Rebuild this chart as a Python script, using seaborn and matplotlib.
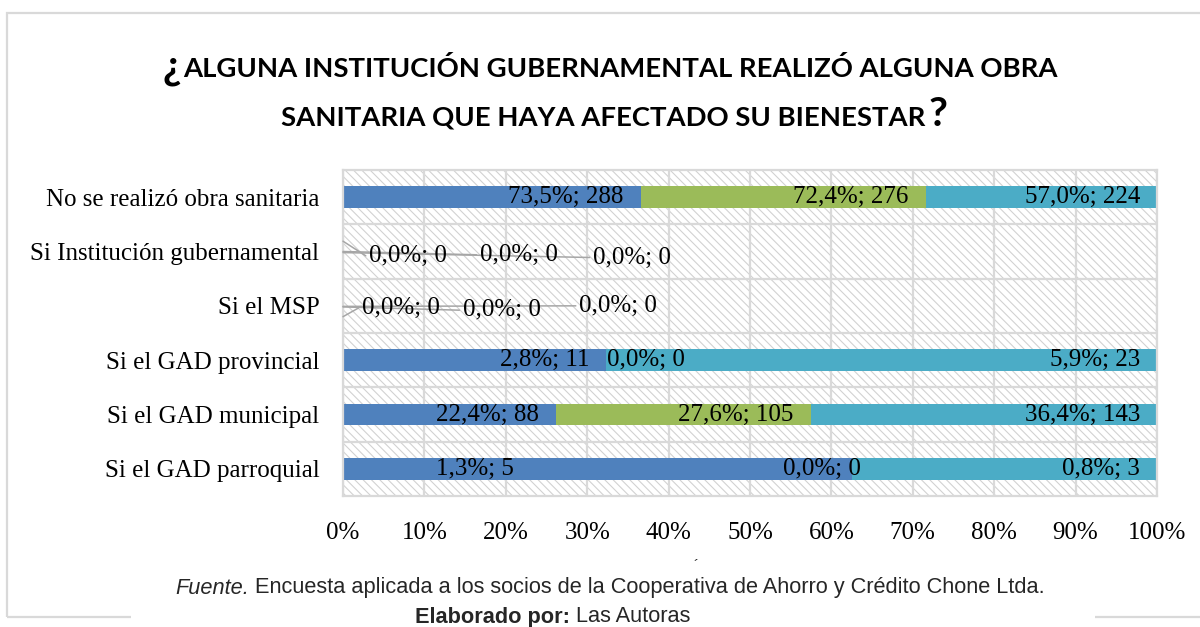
import numpy as np
import pandas as pd
import matplotlib
matplotlib.use("Agg")
import matplotlib.pyplot as plt
import seaborn as sns
from matplotlib.patches import Rectangle
from matplotlib.lines import Line2D

# ---------------------------------------------------------------- data
categories = [
    "No se realizó obra sanitaria",
    "Si Institución gubernamental",
    "Si el MSP",
    "Si el GAD provincial",
    "Si el GAD municipal",
    "Si el GAD parroquial",
]
counts_a = [288, 0, 0, 11, 88, 5]
counts_b = [276, 0, 0, 0, 105, 0]
counts_c = [224, 0, 0, 23, 143, 3]
tick_labels = ["0%", "10%", "20%", "30%", "40%", "50%",
               "60%", "70%", "80%", "90%", "100%"]

title_line1 = "ALGUNA INSTITUCIÓN GUBERNAMENTAL REALIZÓ ALGUNA OBRA"
title_line2 = "SANITARIA QUE HAYA AFECTADO SU BIENESTAR"
source_italic = "Fuente."
source_text = " Encuesta aplicada a los socios de la Cooperativa de Ahorro y Crédito Chone Ltda."
author_bold = "Elaborado por:"
author_text = " Las Autoras"

# ---------------------------------------------------------------- style
palette = ["#4F81BD", "#9BBB59", "#4BACC6"]
grid_color = "#d9d9d9"
leader_color = "#a6a6a6"

sns.set_theme(style="white")
plt.rcParams["font.family"] = ["Liberation Serif", "DejaVu Serif"]
plt.rcParams["hatch.linewidth"] = 0.8

W, H = 1200, 627
fig = plt.figure(figsize=(W / 100, H / 100), dpi=100)
fig.patch.set_facecolor("white")

def px(x, y):
    """Pixel position (from top-left) to figure fraction."""
    return x / W, 1 - y / H

ax_left, ax_right, ax_top, ax_bottom = 343, 1157, 170, 496
ax = fig.add_axes([ax_left / W, 1 - ax_bottom / H,
                   (ax_right - ax_left) / W, (ax_bottom - ax_top) / H])

# ---------------------------------------------------------------- shares
counts = np.array([counts_a, counts_b, counts_c], dtype=float)
row_totals = counts.sum(axis=0)
shares = np.divide(counts, row_totals, out=np.zeros_like(counts),
                   where=row_totals > 0)
cumulative = np.cumsum(shares, axis=0)
series_totals = counts.sum(axis=1)

bars = pd.DataFrame({
    "categoria": categories,
    "hasta_a": cumulative[0],
    "hasta_b": cumulative[1],
    "hasta_c": cumulative[2],
})

# stacked bars: draw the longest cumulative layer first
for col, color in [("hasta_c", palette[2]), ("hasta_b", palette[1]),
                   ("hasta_a", palette[0])]:
    sns.barplot(data=bars, x=col, y="categoria", order=categories,
                orient="h", color=color, saturation=1, width=0.4,
                linewidth=0, errorbar=None, ax=ax)

# ---------------------------------------------------------------- axes
ax.set_xlim(0, 1)
ax.set_ylim(len(categories) - 0.5, -0.5)
ax.set_xlabel("")
ax.set_ylabel("")
ax.set_xticks(np.linspace(0, 1, len(tick_labels)))
ax.set_xticklabels(tick_labels)
ax.set_yticks(np.arange(0.5, len(categories) - 1, 1), minor=True)
ax.grid(False)
ax.xaxis.grid(True, which="major", color=grid_color, lw=1.6)
ax.yaxis.grid(True, which="minor", color=grid_color, lw=1.6)
ax.set_axisbelow(True)
ax.tick_params(axis="both", which="both", length=0, labelsize=18,
               colors="black")
ax.tick_params(axis="y", pad=17)
ax.tick_params(axis="x", pad=18.5)
for s in ax.spines.values():
    s.set_visible(True)
    s.set_color(grid_color)
    s.set_linewidth(1.6)

ax.set_facecolor("white")
ax.patch.set_hatch("\\\\\\\\")
ax.patch.set_edgecolor("#d2d2d2")
ax.patch.set_linewidth(0)

# ---------------------------------------------------------------- labels
def fmt(series, row):
    pct = counts[series, row] / series_totals[series] * 100
    return f"{pct:.1f}".replace(".", ",") + f"%; {int(counts[series, row])}"

# placement tweaks: (row, series) -> settings
#   "x": axes-fraction x (absolute) or None to use the segment end
#   "dx": offset in pixels, "dy": offset in rows, "ha": alignment
spots = {
    (1, 0): dict(x=0.032, dx=0, dy=0.08, ha="left"),
    (1, 1): dict(x=0.168, dx=0, dy=0.06, ha="left"),
    (1, 2): dict(x=0.307, dx=0, dy=0.11, ha="left"),
    (2, 0): dict(x=0.023, dx=0, dy=0.04, ha="left"),
    (2, 1): dict(x=0.147, dx=0, dy=0.08, ha="left"),
    (2, 2): dict(x=0.290, dx=0, dy=0.00, ha="left"),
    (3, 1): dict(x=None, dx=1, dy=0, ha="left"),
    (5, 0): dict(x=0.162, dx=0, dy=0, ha="center"),
    (5, 1): dict(x=None, dx=9, dy=0, ha="right"),
}

# leader lines for rows without bars: start offset (rows) at the axis
leader_start = {(1, 0): -0.19, (1, 1): 0.0, (1, 2): 0.02,
                (2, 0): 0.20, (2, 1): 0.02, (2, 2): 0.01}

for row in range(len(categories)):
    for s in range(3):
        spot = spots.get((row, s), dict(x=None, dx=-17, dy=0, ha="right"))
        x = cumulative[s, row] if spot["x"] is None else spot["x"]
        y = row + spot["dy"]
        ax.annotate(fmt(s, row), xy=(x, y), xytext=(spot["dx"] * 0.72, 0),
                    textcoords="offset points", ha=spot["ha"], va="center",
                    fontsize=18, color="black", zorder=5, annotation_clip=False)
        if (row, s) in leader_start:
            ax.add_line(Line2D([0, x - 0.004], [row + leader_start[(row, s)], y],
                               color=leader_color, lw=1.1, zorder=4,
                               clip_on=False))

# ---------------------------------------------------------------- title
renderer = fig.canvas.get_renderer()

def fit_width(t, target_px):
    w = t.get_window_extent(renderer).width
    t.set_fontsize(t.get_fontsize() * target_px / w)

title_font = dict(family=["Lato", "DejaVu Sans"], weight="bold", color="black")
y_line1, y_line2 = 77, 126
t1 = fig.text(*px(620, y_line1), title_line1, ha="center", va="baseline",
              fontsize=20, **title_font)
fit_width(t1, 871)
size = t1.get_fontsize()
t2 = fig.text(*px(603, y_line2), title_line2, ha="center", va="baseline",
              fontsize=size, **title_font)
b1 = t1.get_window_extent(renderer)
b2 = t2.get_window_extent(renderer)
fig.text((b1.x0 - 2) / W, 1 - (y_line1 + 1) / H, "¿", ha="right",
         va="baseline", fontsize=size * 1.5, **title_font)
fig.text((b2.x1 + 3) / W, 1 - y_line2 / H, "?", ha="left", va="baseline",
         fontsize=size * 1.5, **title_font)

# ---------------------------------------------------------------- frame
frame = Rectangle(px(7, 617), (1215 - 7) / W, (617 - 13) / H,
                  transform=fig.transFigure, fill=False,
                  edgecolor=grid_color, lw=1.6, zorder=0)
fig.add_artist(frame)
fig.add_artist(Rectangle(px(131, 627), (1095 - 131) / W, (627 - 606) / H,
                         transform=fig.transFigure, facecolor="white",
                         edgecolor="none", zorder=1))

# ---------------------------------------------------------------- footer
note_font = ["Liberation Sans Narrow", "Liberation Sans", "DejaVu Sans"]
f1 = fig.text(*px(175, 588), source_italic, ha="left", va="center",
              fontsize=16, style="italic", family=note_font, zorder=2)
f2 = fig.text(0, 0, source_text, ha="left", va="center",
              fontsize=16, family=note_font, zorder=2)
w1 = f1.get_window_extent(renderer).width
w2 = f2.get_window_extent(renderer).width
scale = (1050 - 175) / (w1 + w2)
f1.set_fontsize(16 * scale)
f2.set_fontsize(16 * scale)
b = f1.get_window_extent(renderer)
f2.set_position(((b.x1) / W, 1 - 588 / H))

e1 = fig.text(*px(415, 617), author_bold, ha="left", va="center",
              fontsize=16 * scale, weight="bold", family=note_font, zorder=2)
b = e1.get_window_extent(renderer)
fig.text(b.x1 / W, 1 - 617 / H, author_text, ha="left", va="center",
         fontsize=16 * scale, family=note_font, zorder=2)
fig.text(*px(696, 559), "´", ha="center", va="top", fontsize=11,
         family=note_font)

fig.savefig("out.png", dpi=100, facecolor="white")
